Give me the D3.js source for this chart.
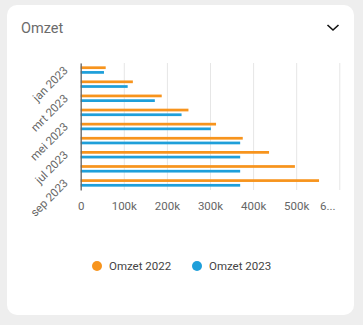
<!DOCTYPE html>
<html><head><meta charset="utf-8">
<script src="https://cdn.jsdelivr.net/npm/d3@7"></script>
<style>
html,body{margin:0;padding:0;background:#eeeeee;}
svg{display:block;font-family:Roboto,"Noto Sans",sans-serif;}
</style></head>
<body>
<svg id="c" width="363" height="325"></svg>
<script>
const months = ["jan 2023","feb 2023","mrt 2023","apr 2023","mei 2023","jun 2023","jul 2023","aug 2023","sep 2023"];
const seriesNames = ["Omzet 2022","Omzet 2023"];
const omzet2022 = [58000,121000,188000,250000,314000,376000,437000,497000,553000];
const omzet2023 = [54000,109000,172000,234000,302000,370000,370000,370000,370000];
const xTicks = [0,100000,200000,300000,400000,500000,600000];
const xTickLabels = ["0","100k","200k","300k","400k","500k","6..."];
const colors = ["#F7941D","#1E9FDA"];

const svg = d3.select("#c");
// card
svg.append("rect").attr("x",7).attr("y",5).attr("width",347).attr("height",310).attr("rx",10).attr("fill","#fff");
svg.append("text").attr("x",21).attr("y",33).attr("fill","#6b6b6b").attr("font-size",14.5).text("Omzet");
svg.append("path").attr("d","M327.5,25 L333,30 L338.5,25").attr("fill","none").attr("stroke","#111").attr("stroke-width",1.6);

const x = d3.scaleLinear().domain([0,600000]).range([80.7,339.3]);
const y = d3.scaleBand().domain(months).range([63,190]).padding(0);
const bw = y.bandwidth();
const sub = d3.scaleBand().domain(seriesNames).range([bw/2-4.7, bw/2+4.7]).padding(0);

// grid
const grid = svg.append("g").attr("transform","translate(0,190)")
  .call(d3.axisBottom(x).tickValues(xTicks).tickSize(-127).tickFormat(""));
grid.select(".domain").remove();
grid.selectAll(".tick line").attr("stroke","#e6e6e6").attr("stroke-width",1);

// bars
const rows = months.map((m,i)=>({m, vals:[omzet2022[i],omzet2023[i]]}));
const g = svg.append("g");
rows.forEach(r=>{
  r.vals.forEach((v,k)=>{
    const th = sub.bandwidth()*0.58;
    g.append("rect")
      .attr("x",x(0)).attr("y",y(r.m)+sub(seriesNames[k])+(sub.bandwidth()-th)/2)
      .attr("width",x(v)-x(0)).attr("height",th).attr("fill",colors[k]);
  });
});

// x axis labels
const xa = svg.append("g").attr("transform","translate(0,190)")
  .call(d3.axisBottom(x).tickValues(xTicks).tickSize(0).tickPadding(12).tickFormat((d,i)=>xTickLabels[i]));
xa.select(".domain").remove();
xa.selectAll("text").attr("fill","#666").attr("font-size",11.5).attr("font-family","Roboto");
xa.selectAll("text").filter(d=>d===600000).attr("dx",-12);

// y axis
const ya = svg.append("g").attr("transform","translate(80.7,0)")
  .call(d3.axisLeft(y).tickValues(months.filter((d,i)=>i%2===0)).tickSize(0));
ya.select(".domain").attr("stroke","#666").attr("stroke-width",1.3);
ya.selectAll("text").attr("fill","#666").attr("font-size",11.5).attr("font-family","Roboto")
  .attr("x",0).attr("dy",0).attr("text-anchor","end")
  .attr("transform","translate(-12,1) rotate(-45)");

// legend
const lg = svg.append("g");
const lx = [97,197];
seriesNames.forEach((s,k)=>{
  lg.append("circle").attr("cx",lx[k]).attr("cy",266).attr("r",5).attr("fill",colors[k]);
  lg.append("text").attr("x",lx[k]+12).attr("y",270).attr("fill","#444").attr("font-size",11.5).text(s);
});
</script>
</body></html>
